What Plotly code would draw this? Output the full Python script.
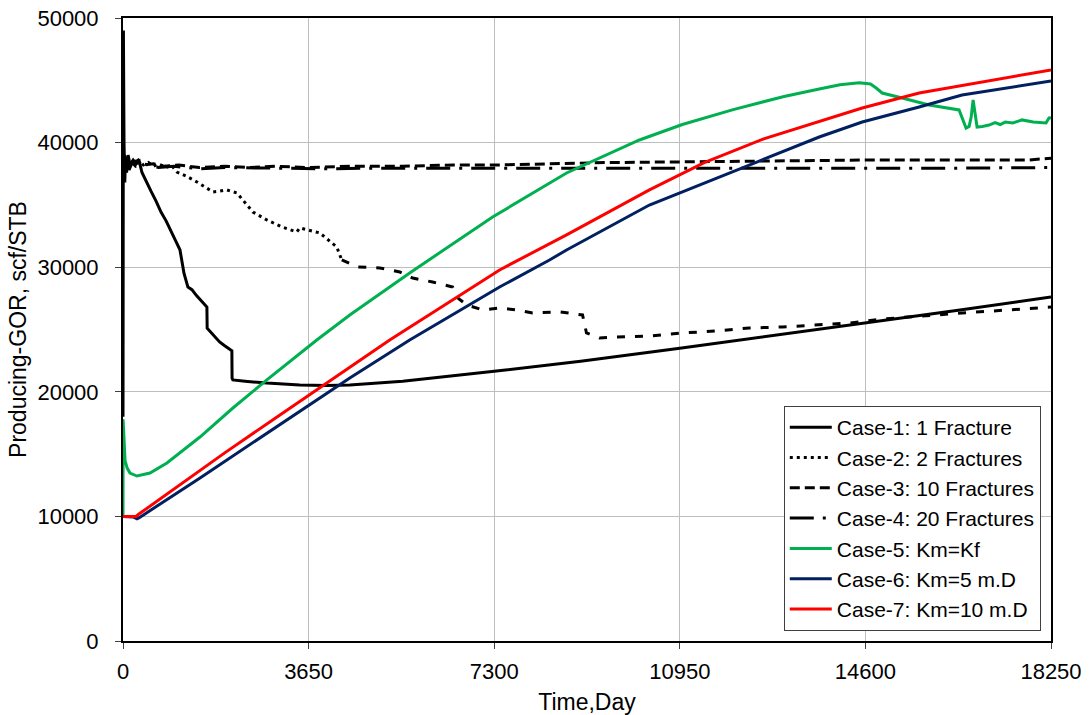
import plotly.graph_objects as go

# ---------------- data ----------------
case1_days = [0, 8, 20, 35, 50, 70, 100, 140, 200, 260, 320, 373, 450, 550, 650, 750, 850,
              950, 1050, 1120, 1150, 1200, 1277, 1355, 1450, 1513, 1600, 1650, 1655, 1700,
              1807, 1900, 2000, 2063, 2141, 2145, 2161, 2400, 2829, 3477, 4000, 4460, 5500,
              7300, 9000, 10950, 12775, 14600, 16425, 18250]
case1_gor = [18000, 49000, 40000, 36800, 38900, 37600, 39000, 38200, 38600, 38300, 38500, 37600,
             37000, 36100, 35300, 34400, 33700, 32900, 32000, 31400, 30600, 29500, 28400, 28200,
             27700, 27400, 27000, 26800, 25100, 24900, 24400, 24000, 23700, 23500, 23300, 21100,
             20950, 20850, 20700, 20550, 20500, 20550, 20850, 21650, 22450, 23500, 24500, 25500,
             26550, 27600]

case2_days_a = [0, 20, 50, 100, 200, 300, 400, 500, 600, 700, 850, 950, 1061, 1250, 1454, 1600,
                1768, 1900, 2043, 2240, 2357, 2554, 2829, 3124, 3418, 3477, 3870, 4204, 4302]
case2_gor_a = [38000, 38800, 37800, 38500, 38300, 38600, 38200, 38400, 38100, 38300, 38000, 38200,
               37640, 37300, 36840, 36500, 36040, 36100, 36200, 35960, 35390, 34430, 33790, 33230,
               32830, 33150, 32750, 31620, 30580]
case2_days_b = [4302, 4617, 5049, 5442, 5697, 6090, 6483, 6561, 6758, 7072, 7406, 7740, 8055,
                8585, 9037, 9115, 9370, 9704, 10353, 11001, 11669, 12317, 12966, 13634, 14282,
                14930, 16425, 18250]
case2_gor_b = [30580, 30020, 29940, 29620, 29130, 28810, 28410, 27610, 26970, 26570, 26730, 26570,
               26330, 26410, 26170, 24720, 24320, 24400, 24480, 24720, 24880, 25120, 25200, 25360,
               25520, 25840, 26300, 26800]

case3_days = [0, 30, 60, 100, 150, 250, 400, 600, 800, 1100, 1500, 2000, 2500, 3000, 3650, 4500,
              5500, 6500, 7300, 8500, 9500, 10950, 12775, 14600, 16425, 17800, 18100, 18250]
case3_gor = [38500, 39000, 38200, 38700, 38300, 38500, 38200, 38300, 38100, 38200, 38000, 38100,
             38000, 38100, 38000, 38100, 38100, 38200, 38200, 38300, 38400, 38450, 38550, 38600,
             38600, 38600, 38700, 38750]

case4_days = [0, 20, 50, 80, 120, 180, 250, 400, 700, 1000, 1500, 2000, 3000, 4000, 5000, 7300,
              9000, 10950, 12775, 14600, 16425, 18250]
case4_gor = [38000, 39000, 37500, 38600, 37800, 38400, 38100, 38300, 38000, 38100, 37900, 38000,
             37950, 37900, 37950, 37950, 37900, 37950, 37950, 37950, 37950, 38000]

case5_days = [0, 2, 40, 80, 137, 275, 530, 864, 1513, 2161, 2829, 3811, 4460, 5638, 7269, 8723,
              10156, 11000, 12000, 13000, 13692, 14100, 14480, 14700, 14812, 14930, 15323, 15853,
              16442, 16501, 16580, 16640, 16680, 16718, 16757, 16796, 16900, 17032, 17150, 17250,
              17350, 17500, 17680, 17900, 18152, 18211, 18250]
case5_gor = [10000, 17800, 14500, 13900, 13480, 13240, 13480, 14290, 16370, 18700, 20950, 24160,
             26160, 29540, 34030, 37560, 40210, 41450, 42650, 43700, 44300, 44650, 44800, 44700,
             44380, 43980, 43580, 43020, 42620, 41980, 41170, 41300, 42050, 43420, 42100, 41250,
             41300, 41410, 41600, 41450, 41650, 41570, 41820, 41650, 41570, 41980, 42000]

case6_days = [0, 100, 200, 275, 320, 1500, 3000, 4460, 5638, 7406, 8388, 8723, 10352, 11500,
              12500, 13692, 14537, 15657, 16501, 18250]
case6_gor = [10000, 10000, 9950, 9800, 9900, 13050, 17150, 21110, 24160, 28410, 30580, 31380,
             34990, 36900, 38500, 40450, 41650, 42860, 43820, 44945]

case7_days = [0, 260, 300, 1000, 2000, 3000, 4460, 5245, 7406, 8723, 10353, 11430, 12600, 13692,
              14537, 15657, 16639, 18250]
case7_gor = [10000, 10000, 10150, 12200, 15100, 17900, 22000, 24160, 29780, 32600, 36200, 38400,
             40300, 41730, 42780, 43980, 44700, 45830]

x_ticks = [0, 3650, 7300, 10950, 14600, 18250]
y_ticks = [0, 10000, 20000, 30000, 40000, 50000]

names = ["Case-1: 1 Fracture", "Case-2: 2 Fractures", "Case-3: 10 Fractures",
         "Case-4: 20 Fractures", "Case-5: Km=Kf", "Case-6: Km=5 m.D", "Case-7: Km=10 m.D"]

# ---------------- figure ----------------
FONT = "Arial, Liberation Sans, sans-serif"
W = 3
fig = go.Figure()
fig.add_trace(go.Scatter(x=case1_days, y=case1_gor, mode="lines", name=names[0],
                         line=dict(color="black", width=W)))
fig.add_trace(go.Scatter(x=case2_days_a, y=case2_gor_a, mode="lines", name=names[1],
                         legendgroup="c2", line=dict(color="black", width=W, dash="3px,4px")))
fig.add_trace(go.Scatter(x=case2_days_b, y=case2_gor_b, mode="lines", name=names[1],
                         legendgroup="c2", showlegend=False,
                         line=dict(color="black", width=W, dash="8px,10px")))
fig.add_trace(go.Scatter(x=case3_days, y=case3_gor, mode="lines", name=names[2],
                         line=dict(color="black", width=W, dash="10px,5px")))
fig.add_trace(go.Scatter(x=case4_days, y=case4_gor, mode="lines", name=names[3],
                         line=dict(color="black", width=W, dash="24px,9px,3px,9px")))
fig.add_trace(go.Scatter(x=case5_days, y=case5_gor, mode="lines", name=names[4],
                         line=dict(color="#00B050", width=W)))
fig.add_trace(go.Scatter(x=case6_days, y=case6_gor, mode="lines", name=names[5],
                         line=dict(color="#002060", width=W)))
fig.add_trace(go.Scatter(x=case7_days, y=case7_gor, mode="lines", name=names[6],
                         line=dict(color="#FF0000", width=W)))

axis_common = dict(showline=True, mirror=True, linecolor="black", linewidth=2,
                   showgrid=True, gridcolor="#BEBEBE", gridwidth=1, zeroline=False,
                   ticks="outside", ticklen=6, tickcolor="#404040", tickwidth=1,
                   automargin=False,
                   tickfont=dict(family=FONT, size=22, color="black"))

fig.update_layout(
    width=1091, height=715,
    margin=dict(l=123, r=40, t=18, b=74),
    paper_bgcolor="white", plot_bgcolor="white",
    font=dict(family=FONT, size=22, color="black"),
    showlegend=True,
    legend=dict(x=0.989, y=0.016, xanchor="right", yanchor="bottom",
                bgcolor="white", bordercolor="#404040", borderwidth=1,
                font=dict(family=FONT, size=21, color="black"),
                itemwidth=42, tracegroupgap=0),
    xaxis=dict(range=[0, 18250], tickmode="array", tickvals=x_ticks,
               ticktext=[str(v) for v in x_ticks], ticklabelstandoff=4,
               title=dict(text="Time,Day", font=dict(family=FONT, size=23), standoff=11),
               **axis_common),
    yaxis=dict(range=[0, 50000], tickmode="array", tickvals=y_ticks,
               ticktext=[str(v) for v in y_ticks], ticklabelstandoff=12,
               title=dict(text="Producing-GOR, scf/STB", font=dict(family=FONT, size=23),
                          standoff=4),
               **axis_common),
)

# remove the default page margin so the 1091x715 figure fills the window exactly
fig.write_html("out.html", config={"displayModeBar": False},
               post_script="document.body.style.margin='0';")
